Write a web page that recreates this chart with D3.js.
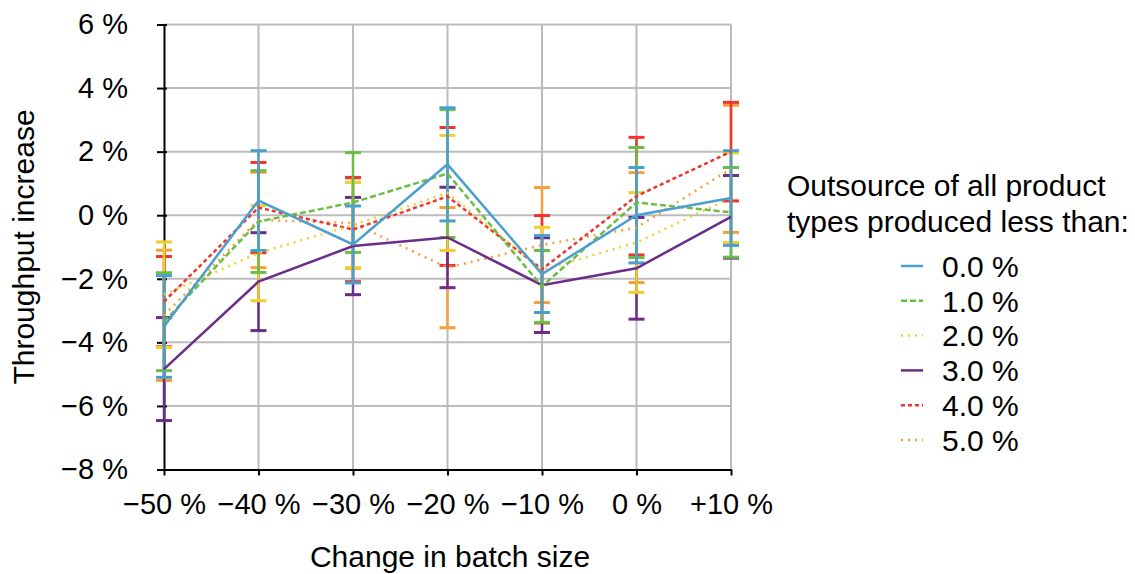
<!DOCTYPE html>
<html>
<head>
<meta charset="utf-8">
<script src="https://cdn.jsdelivr.net/npm/d3@7"></script>
<style>
  body { margin: 0; background: #fff; }
  text { font-family: "Liberation Sans", Arial, sans-serif; fill: #000; }
</style>
</head>
<body>
<svg id="chart" width="1135" height="574"></svg>
<script>
const categories = ["\u221250 %", "\u221240 %", "\u221230 %", "\u221220 %", "\u221210 %", "0 %", "+10 %"];
const seriesNames = ["0.0 %", "1.0 %", "2.0 %", "3.0 %", "4.0 %", "5.0 %"];
const yTicks = [-8, -6, -4, -2, 0, 2, 4, 6];

// mean throughput increase (%) per series
const mean0 = [-3.50, 0.46, -0.92, 1.60, -1.85, 0.00, 0.54];
const mean1 = [-3.35, -0.20, 0.40, 1.31, -2.24, 0.40, 0.09];
const mean2 = [-2.50, -1.19, -0.31, 0.70, -1.72, -0.86, 0.55];
const mean3 = [-4.84, -2.09, -0.97, -0.70, -2.20, -1.67, -0.05];
const mean4 = [-2.72, 0.24, -0.45, 0.59, -1.70, 0.60, 2.00];
const mean5 = [-3.15, -0.15, -0.25, -1.65, -0.94, -0.39, 1.46];

// half width of the error bars (%)
const err0 = [1.60, 1.57, 1.21, 1.78, 1.21, 1.50, 1.49];
const err1 = [1.54, 1.60, 1.57, 2.01, 1.13, 1.73, 1.41];
const err2 = [1.66, 1.50, 1.34, 1.81, 1.34, 1.57, 1.41];
const err3 = [1.62, 1.54, 1.53, 1.58, 1.49, 1.60, 1.30];
const err4 = [1.42, 1.42, 1.64, 2.17, 1.69, 1.85, 1.55];
const err5 = [2.05, 1.50, 1.42, 1.89, 1.81, 1.73, 2.00];

const means = [mean0, mean1, mean2, mean3, mean4, mean5];
const errs = [err0, err1, err2, err3, err4, err5];
const colors = ["#4a9fcf", "#6cbd45", "#f2cf2c", "#6a2d88", "#ef3530", "#f6a03a"];
const dashes = [null, "6,3", "2,5", null, "4,3", "2,5"];

const svg = d3.select("#chart");
const tickSize = 29;
const titleSize = 30;

const x = d3.scalePoint().domain(categories).range([164, 731]);
const y = d3.scaleLinear().domain([-8, 6]).range([469.5, 24.5]);

// grid
const grid = svg.append("g");
grid.selectAll("line.h")
  .data(yTicks.filter(d => d > -8))
  .join("line")
    .attr("x1", 164).attr("x2", 731)
    .attr("y1", d => y(d)).attr("y2", d => y(d))
    .style("stroke", "#bcbcbc").style("stroke-width", 2);
grid.selectAll("line.v")
  .data(categories.slice(1))
  .join("line")
    .attr("x1", d => x(d)).attr("x2", d => x(d))
    .attr("y1", y(6)).attr("y2", y(-8))
    .style("stroke", "#bcbcbc").style("stroke-width", 2);

// axes
const yAxis = svg.append("g").attr("transform", "translate(164,0)")
  .call(d3.axisLeft(y).tickValues(yTicks).tickSize(7).tickSizeOuter(0)
    .tickFormat(d => (d < 0 ? "\u2212" + Math.abs(d) : d) + " %"));
yAxis.select(".domain").attr("stroke", "#000").attr("stroke-width", 2);
yAxis.selectAll(".tick line").attr("stroke", "#000").attr("stroke-width", 2).attr("x2", -7).attr("x1", 3);
yAxis.selectAll(".tick text").attr("x", -36).style("font-size", tickSize + "px")
  .style("font-family", "Liberation Sans, Arial, sans-serif");

const xAxis = svg.append("g").attr("transform", "translate(0,469.5)")
  .call(d3.axisBottom(x).tickSize(6).tickSizeOuter(0));
xAxis.select(".domain").attr("stroke", "#000").attr("stroke-width", 2);
xAxis.selectAll(".tick line").attr("stroke", "#000").attr("stroke-width", 2);
xAxis.selectAll(".tick text").attr("y", 24).attr("dy", "0.71em").style("font-size", tickSize + "px")
  .style("font-family", "Liberation Sans, Arial, sans-serif");

// series, drawn last-first so 0.0 % ends on top
const line = d3.line().x((d, i) => x(categories[i])).y(d => y(d));
const order = d3.range(seriesNames.length).reverse();

order.forEach(s => {
  const g = svg.append("g");
  const pts = means[s].map((m, i) => ({ i: i, m: m, e: errs[s][i] }));
  g.selectAll("line.bar")
    .data(pts)
    .join("line")
      .attr("x1", d => x(categories[d.i])).attr("x2", d => x(categories[d.i]))
      .attr("y1", d => y(d.m + d.e)).attr("y2", d => y(d.m - d.e))
      .style("stroke", colors[s]).style("stroke-width", 2.5);
  g.selectAll("line.capTop")
    .data(pts)
    .join("line")
      .attr("x1", d => x(categories[d.i]) - 8).attr("x2", d => x(categories[d.i]) + 8)
      .attr("y1", d => y(d.m + d.e)).attr("y2", d => y(d.m + d.e))
      .style("stroke", colors[s]).style("stroke-width", 3);
  g.selectAll("line.capBot")
    .data(pts)
    .join("line")
      .attr("x1", d => x(categories[d.i]) - 8).attr("x2", d => x(categories[d.i]) + 8)
      .attr("y1", d => y(d.m - d.e)).attr("y2", d => y(d.m - d.e))
      .style("stroke", colors[s]).style("stroke-width", 3);
});

order.forEach(s => {
  svg.append("path")
    .datum(means[s])
    .attr("d", line)
    .style("fill", "none")
    .style("stroke", colors[s])
    .style("stroke-width", 2.5)
    .style("stroke-dasharray", dashes[s]);
});

// axis titles
svg.append("text")
  .attr("transform", "translate(34,247) rotate(-90)")
  .attr("text-anchor", "middle")
  .style("font-size", titleSize + "px")
  .text("Throughput increase");
svg.append("text")
  .attr("x", 450).attr("y", 567)
  .attr("text-anchor", "middle")
  .style("font-size", titleSize + "px")
  .text("Change in batch size");

// legend
const legend = svg.append("g");
legend.append("text").attr("x", 787).attr("y", 196).style("font-size", titleSize + "px")
  .text("Outsource of all product");
legend.append("text").attr("x", 787).attr("y", 232).style("font-size", titleSize + "px")
  .text("types produced less than:");

const rows = legend.selectAll("g.row")
  .data(seriesNames)
  .join("g")
    .attr("transform", (d, i) => "translate(0," + (266 + i * 34.8) + ")");
rows.append("line")
  .attr("x1", 901).attr("x2", 923)
  .style("stroke", (d, i) => colors[i])
  .style("stroke-width", 2.5)
  .style("stroke-dasharray", (d, i) => dashes[i]);
rows.append("text")
  .attr("x", 942).attr("dy", "0.36em")
  .style("font-size", titleSize + "px")
  .text(d => d);
</script>
</body>
</html>
